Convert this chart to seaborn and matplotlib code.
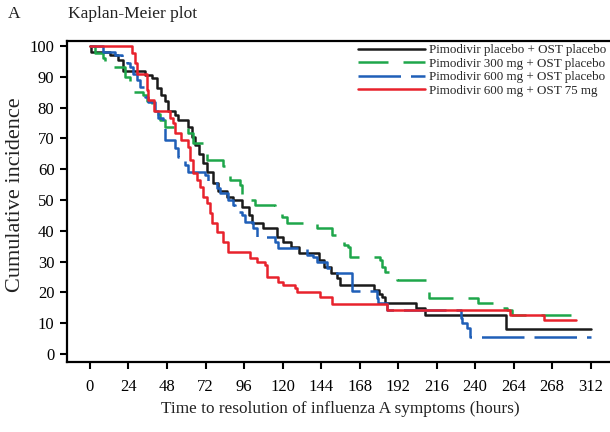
import matplotlib
matplotlib.use("Agg")
import matplotlib.pyplot as plt
import pandas as pd
import seaborn as sns

# ---- data ----
labels = [
    "Pimodivir placebo + OST placebo",
    "Pimodivir 300 mg + OST placebo",
    "Pimodivir 600 mg + OST placebo",
    "Pimodivir 600 mg + OST 75 mg",
]

black_t = [0, 0.5, 12.5, 17.5, 20.6, 34.3, 38.7, 41.8, 44.3, 47, 48.6, 53, 55, 61, 63.6,
           65.5, 68, 70.5, 73, 76.7, 80, 85.5, 89, 95, 99, 101, 108, 116.5, 120, 125, 130,
           143, 146, 150, 154, 156, 177, 180, 182, 184, 203, 209, 259, 312]
black_v = [100, 98, 97, 95.5, 92, 90.5, 89.6, 86.4, 84, 82, 79, 77.6, 76, 73.7, 70.5,
           68, 65, 62, 59, 55.5, 53, 51, 50, 47.7, 45, 42.5, 41, 38, 36.4, 34.7, 32.8,
           30.5, 28.2, 26.3, 24.7, 22.4, 20.8, 19.5, 18.5, 16.5, 15, 12.5, 8, 8]

green_t = [0, 3, 8, 9.5, 12.5, 21.8, 25, 26, 33, 35.6, 38.7, 40.5, 43.7, 46.8, 61, 64,
           70.5, 73, 83, 85.5, 87.3, 93.6, 94.8, 99.8, 103, 115.4, 119.8, 123, 141.6, 151,
           156, 158, 161, 162, 181, 182, 184, 187, 191.5, 210, 211, 242, 254.5, 260, 263, 307]
green_v = [100, 97.7, 96, 94.5, 93, 90, 88, 85, 84, 82, 80, 78, 76, 73.7, 71.7, 68.5,
           65, 63, 61, 58.8, 56.5, 55, 51, 50, 48.4, 46, 44.5, 42.5, 41, 38.6,
           36.4, 35.4, 34.7, 31.5, 30.5, 28.2, 26.6, 25, 24, 21.8, 18.2, 16.5, 15, 14.3, 12.7, 12.7]

blue_t = [0, 8, 15.6, 20, 23, 25, 26.8, 29.3, 31.2, 34.3, 36.2, 40.5, 42.4, 45.5, 46.8,
          53, 55, 59.3, 61, 71.7, 73.6, 79.2, 81, 86, 89.2, 90.5, 94.8, 96.7, 101.7, 104,
          115.4, 117.3, 135.4, 139, 141.6, 147.8, 152, 163.4, 179, 179.7, 185, 231, 232,
          235, 237, 312]
blue_v = [100, 98, 97, 95.5, 94.5, 93, 91, 89, 86.7, 83.4, 81.8, 79, 76.6, 73.7, 69.5,
          67, 64, 61.4, 59, 58, 55.5, 54, 52.3, 50, 48.4, 46, 45, 43, 41, 38,
          36.4, 34.4, 32, 31.5, 30, 28, 26.3, 20.5, 18.2, 16.5, 14.3, 11.7, 10,
          8.4, 5.5, 5.5]

red_t = [0, 26.2, 28, 29.3, 35.6, 36.2, 40, 50, 51.8, 53, 57, 61, 62.4, 64.3, 66.7, 68.6,
         70.5, 73, 74.9, 76, 79.2, 83, 86, 99.8, 104, 109, 110.4, 117.3, 120.4, 127.9, 129,
         143.5, 151, 185, 262, 283, 302.6]
red_v = [100, 97.7, 94.5, 91, 85.7, 82.5, 79, 76.6, 75, 71.7, 69.5, 67.2, 63, 58.8, 56.5,
         54.2, 51, 49, 45.8, 42.5, 39.6, 36.4, 33, 31, 30, 29, 25, 23.4, 22.4, 21.4, 20,
         18.5, 16.2, 14.3, 12.7, 11, 11]

x_ticks = [0, 24, 48, 72, 96, 120, 144, 168, 192, 216, 240, 264, 288, 312]
x_tick_labels = ["0", "24", "48", "72", "96", "120", "144", "168", "192", "216",
                 "240", "264", "268", "312"]
y_ticks = [0, 10, 20, 30, 40, 50, 60, 70, 80, 90, 100]

# ---- build table ----
series = [(labels[0], black_t, black_v), (labels[1], green_t, green_v),
          (labels[2], blue_t, blue_v), (labels[3], red_t, red_v)]
df = pd.concat([pd.DataFrame({"time": t, "value": v, "group": lab}) for lab, t, v in series],
               ignore_index=True)

sns.set_theme(style="white")
plt.rcParams["font.family"] = ["Liberation Serif", "DejaVu Serif"]

fig = plt.figure(figsize=(6.10, 4.32), dpi=100)
ax = fig.add_axes([67 / 610, 1 - 362 / 432, 1 - 67 / 610, (362 - 41) / 432])

palette = {labels[0]: "#1a1a1a", labels[1]: "#1ea64a", labels[2]: "#1f5fb8", labels[3]: "#e8222c"}
dashes = {labels[0]: "", labels[1]: (12, 6), labels[2]: (17, 4), labels[3]: ""}

sns.lineplot(data=df, x="time", y="value", hue="group", style="group",
             hue_order=labels, style_order=labels, palette=palette, dashes=dashes,
             estimator=None, sort=False, drawstyle="steps-post", lw=1.8, ax=ax)

ax.set_xlim(-14.3, 324)
ax.set_ylim(-2.6, 101.6)
ax.set_xticks(x_ticks)
ax.set_xticklabels(x_tick_labels)
ax.set_yticks(y_ticks)
ax.tick_params(axis="both", direction="out", length=5, width=1.5, colors="black",
               labelsize=12, bottom=True, left=True, pad=4)
ax.tick_params(axis="x", pad=7)
for s in ["top", "left", "bottom"]:
    ax.spines[s].set_visible(True)
    ax.spines[s].set_color("black")
    ax.spines[s].set_linewidth(1.6)
ax.spines["right"].set_visible(False)

ax.set_xlabel("Time to resolution of influenza A symptoms (hours)", fontsize=12.4, color="#222222")
ax.set_ylabel("Cumulative incidence", fontsize=16, color="#222222")
ax.xaxis.set_label_coords((340 - 67) / 543, -(401 - 362) / 321)
ax.yaxis.set_label_coords((25 - 67) / 543, (362 - 195) / 321)

handles, labs = ax.get_legend_handles_labels()
ax.legend(handles, labs, loc="upper right", bbox_to_anchor=(1.0, 1.0), frameon=False,
          fontsize=9.4, handlelength=5.1, labelspacing=0.1, handletextpad=0.35,
          borderaxespad=0.1, borderpad=0.15)

fig.text(8 / 610, 1 - 14 / 432, "A", fontsize=12.5, va="center", ha="left", color="#222222")
fig.text(68 / 610, 1 - 14 / 432, "Kaplan-Meier plot", fontsize=12.5, va="center", ha="left", color="#222222")

fig.savefig("out.png", dpi=100)
